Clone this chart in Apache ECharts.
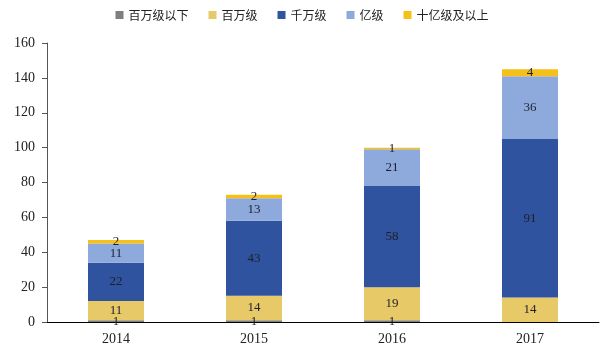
<!DOCTYPE html>
<html>
<head>
<meta charset="utf-8">
<script src="https://cdn.jsdelivr.net/npm/echarts@6/dist/echarts.min.js"></script>
<style>
  html, body { margin: 0; padding: 0; background: #fff; }
  #chart { width: 604px; height: 352px; }
</style>
</head>
<body>
<div id="chart"></div>
<script>
// chart data
var years = ["2014", "2015", "2016", "2017"];
var seriesNames = ["百万级以下", "百万级", "千万级", "亿级", "十亿级及以上"];
var belowMillion = [1, 1, 1, 0];
var million = [11, 14, 19, 14];
var tenMillion = [22, 43, 58, 91];
var hundredMillion = [11, 13, 21, 36];
var billionPlus = [2, 2, 1, 4];
var yTicks = { min: 0, max: 160, interval: 20 };

var colors = ["#7f7f7f", "#e8c968", "#2f539e", "#8eaadc", "#f5c118"];
var values = [belowMillion, million, tenMillion, hundredMillion, billionPlus];

var serif = "'Liberation Serif', 'DejaVu Serif', serif";

var series = seriesNames.map(function (name, i) {
    return {
        name: name,
        type: "bar",
        stack: "total",
        barWidth: 56,
        data: values[i],
        itemStyle: { color: colors[i] },
        label: {
            show: true,
            position: "inside",
            color: "#1f1f2a",
            fontFamily: serif,
            fontSize: 13,
            formatter: function (p) { return p.value ? p.value : ""; }
        }
    };
});

var chart = echarts.init(document.getElementById("chart"));
chart.setOption({
    animation: false,
    legend: {
        top: 4,
        left: "center",
        itemWidth: 8,
        itemHeight: 8,
        itemGap: 20,
        icon: "rect",
        textStyle: { fontFamily: "'Noto Sans CJK SC', sans-serif", fontSize: 12, color: "#222" },
        data: seriesNames
    },
    grid: { left: 47, right: 5, top: 43, bottom: 30 },
    xAxis: {
        type: "category",
        data: years,
        axisLine: { lineStyle: { color: "#000", width: 1 } },
        axisTick: { show: false },
        axisLabel: { fontFamily: serif, fontSize: 14, color: "#222", margin: 10 }
    },
    yAxis: {
        type: "value",
        min: yTicks.min,
        max: yTicks.max,
        interval: yTicks.interval,
        splitLine: { show: false },
        axisLine: { show: true, lineStyle: { color: "#555", width: 1 } },
        axisTick: { show: true, length: 5, lineStyle: { color: "#555" } },
        axisLabel: { fontFamily: serif, fontSize: 14, color: "#222", margin: 12 }
    },
    series: series
});
</script>
</body>
</html>
